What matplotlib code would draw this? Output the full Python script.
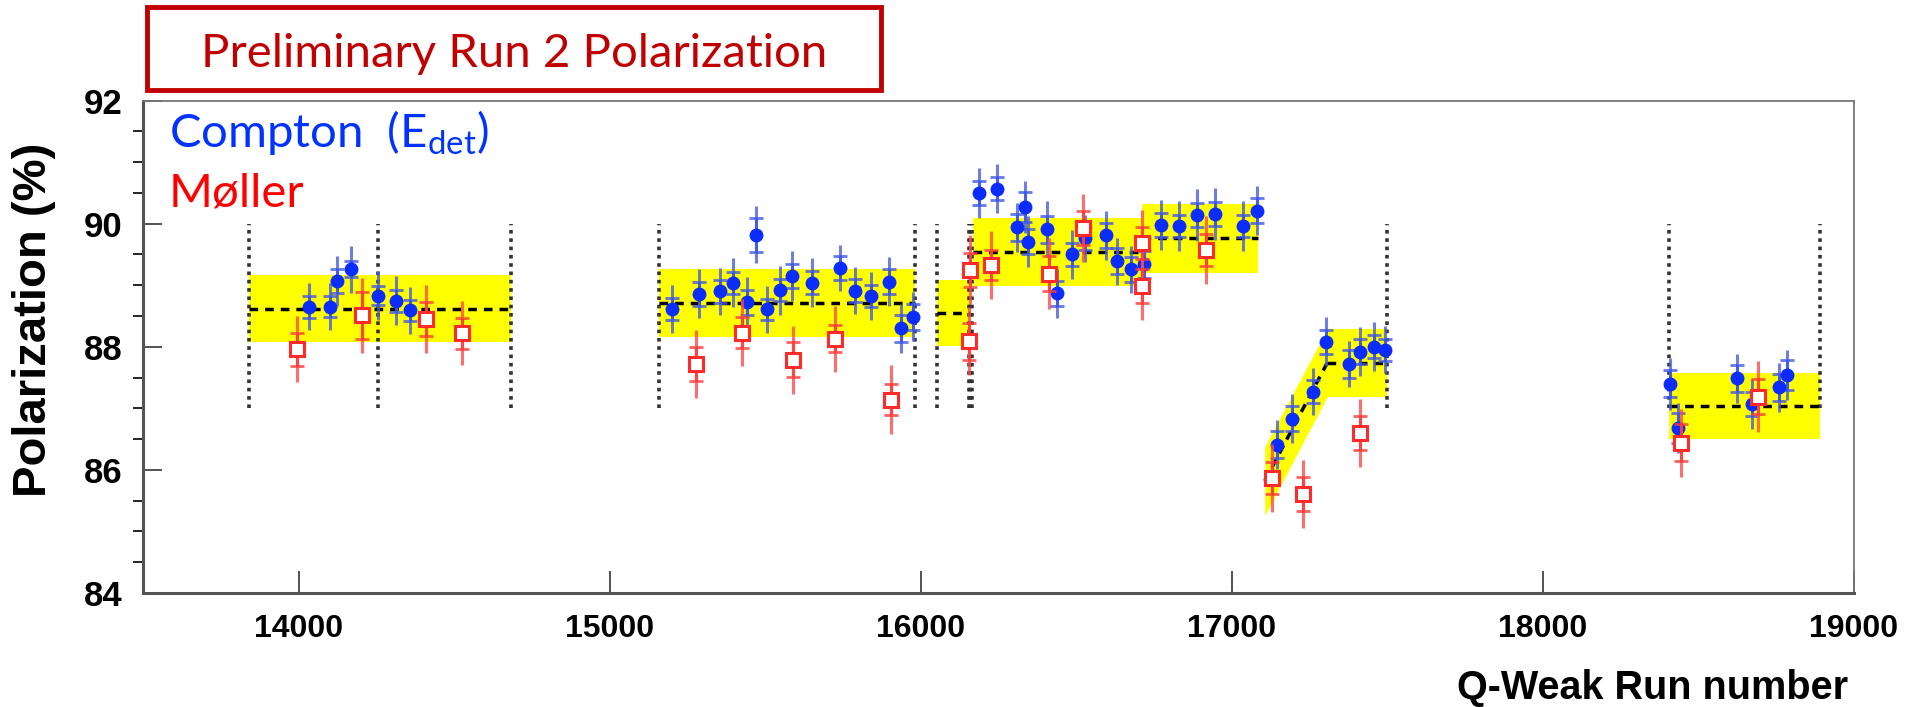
import matplotlib
matplotlib.use("Agg")
import matplotlib.pyplot as plt
from matplotlib.patches import Rectangle

# Compton (E_det) measurements
compton_run = [14034, 14101, 14125, 14169, 14254, 14312, 14358,
               15199, 15288, 15355, 15398, 15441, 15470, 15507, 15548, 15586,
               15651, 15741, 15790, 15840, 15899, 15937, 15974,
               16188, 16244, 16310, 16335, 16346, 16407, 16439, 16488, 16529,
               16595, 16630, 16675, 16719, 16771, 16831, 16887, 16946, 17037, 17080,
               17146, 17194, 17262, 17304, 17376, 17413, 17458, 17491,
               18408, 18435, 18625, 18673, 18759, 18786]
compton_pol = [88.65, 88.65, 89.07, 89.26, 88.83, 88.75, 88.59,
               88.61, 88.86, 88.90, 89.04, 88.72, 89.82, 88.61, 88.92, 89.15,
               89.04, 89.28, 88.91, 88.83, 89.06, 88.30, 88.49,
               90.50, 90.57, 89.94, 90.27, 89.71, 89.91, 88.87, 89.50, 89.76,
               89.81, 89.39, 89.26, 89.34, 89.98, 89.96, 90.14, 90.16, 89.96, 90.21,
               86.41, 86.83, 87.27, 88.08, 87.72, 87.92, 88.00, 87.95,
               87.40, 86.68, 87.49, 87.07, 87.34, 87.54]
compton_stat = [0.18, 0.17, 0.20, 0.13, 0.15, 0.18, 0.17,
                0.18, 0.20, 0.19, 0.18, 0.20, 0.28, 0.17, 0.18, 0.20,
                0.19, 0.20, 0.19, 0.18, 0.20, 0.22, 0.21,
                0.20, 0.19, 0.22, 0.25, 0.20, 0.22, 0.20, 0.18, 0.19,
                0.20, 0.21, 0.20, 0.22, 0.19, 0.18, 0.20, 0.19, 0.18, 0.20,
                0.22, 0.20, 0.19, 0.20, 0.22, 0.20, 0.19, 0.18,
                0.22, 0.25, 0.22, 0.20, 0.22, 0.25]
compton_err = [0.38, 0.38, 0.40, 0.38, 0.40, 0.40, 0.38,
               0.39, 0.40, 0.38, 0.40, 0.42, 0.46, 0.38, 0.40, 0.40,
               0.40, 0.38, 0.38, 0.39, 0.40, 0.40, 0.40,
               0.40, 0.40, 0.40, 0.42, 0.42, 0.45, 0.40, 0.40, 0.38,
               0.40, 0.38, 0.38, 0.40, 0.40, 0.40, 0.42, 0.42, 0.40, 0.40,
               0.40, 0.40, 0.38, 0.40, 0.38, 0.40, 0.40, 0.38,
               0.42, 0.40, 0.40, 0.40, 0.40, 0.40]

# Moller measurements
moller_run = [13994, 14203, 14410, 14527,
              15278, 15425, 15588, 15726, 15905,
              16155, 16160, 16225, 16414, 16521, 16712, 16712, 16918,
              17130, 17228, 17412, 18443, 18690]
moller_pol = [87.96, 88.51, 88.45, 88.22,
              87.72, 88.23, 87.79, 88.13, 87.14,
              88.09, 89.25, 89.33, 89.19, 89.93, 89.68, 88.99, 89.57,
              85.87, 85.61, 86.60, 86.44, 87.19]
moller_stat = [0.27, 0.38, 0.28, 0.25,
               0.27, 0.25, 0.28, 0.22, 0.25,
               0.30, 0.28, 0.25, 0.28, 0.28, 0.26, 0.28, 0.26,
               0.26, 0.28, 0.27, 0.30, 0.28]
moller_err = [0.54, 0.61, 0.55, 0.52,
              0.55, 0.55, 0.55, 0.54, 0.56,
              0.55, 0.56, 0.55, 0.58, 0.55, 0.55, 0.55, 0.55,
              0.55, 0.55, 0.55, 0.55, 0.58]

# flat averaging ranges (mean +- band)
band_lo = [13841, 15159, 16051, 16167, 16711, 17307, 18406]
band_hi = [14683, 15981, 16158, 16711, 17085, 17500, 18891]
band_mean = [88.62, 88.71, 88.55, 89.54, 89.76, 87.74, 87.04]
band_half = [0.55, 0.55, 0.54, 0.55, 0.56, 0.55, 0.54]

# sloped range
ramp_run = [17106, 17307]
ramp_mean = [85.82, 87.74]
ramp_half = [0.56, 0.55]

# run boundaries
boundary_runs = [13841, 14257, 14683, 15159, 15981, 16051, 16155, 16160,
                 16165, 17498, 18406, 18891]

plt.rcParams["mathtext.fontset"] = "custom"
plt.rcParams["mathtext.rm"] = "Lato"

fig = plt.figure(figsize=(19.19, 7.07), dpi=100)
ax = fig.add_axes([0.0745, 0.1612, 0.8916, 0.6966])

for lo, hi, m, h in zip(band_lo, band_hi, band_mean, band_half):
    ax.fill_between([lo, hi], [m - h] * 2, [m + h] * 2, color="#ffff00", lw=0, zorder=1)
    ax.plot([lo, hi], [m, m], ls=(0, (2.5, 2)), color="black", lw=2.5, zorder=3)

ax.fill_between(ramp_run, [m - h for m, h in zip(ramp_mean, ramp_half)],
                [m + h for m, h in zip(ramp_mean, ramp_half)],
                color="#ffff00", lw=0, zorder=1)
ax.plot(ramp_run, ramp_mean, ls=(0, (2.5, 2)), color="black", lw=2.5, zorder=3)

for r in boundary_runs:
    ax.plot([r, r], [87.0, 90.0], ls=(0, (1, 1.3)), color="#333333", lw=2.6, zorder=2)

# Compton
ax.errorbar(compton_run, compton_pol, yerr=compton_err, fmt="none",
            ecolor="#4a5fd8", elinewidth=2.2, alpha=0.8, zorder=4)
ax.errorbar(compton_run, compton_pol, yerr=compton_stat, fmt="none",
            ecolor="#3d55e6", elinewidth=2.2, capsize=5, capthick=2, alpha=0.8, zorder=4)
ax.plot(compton_run, compton_pol, "o", color="#0a2cff", ms=9, mec="#0a2cff", zorder=5)

# Moller
ax.errorbar(moller_run, moller_pol, yerr=moller_err, fmt="none",
            ecolor="#ff4a4a", elinewidth=2.2, alpha=0.8, zorder=6)
ax.errorbar(moller_run, moller_pol, yerr=moller_stat, fmt="none",
            ecolor="#ff3a3a", elinewidth=2.2, capsize=5, capthick=2, alpha=0.8, zorder=6)
ax.plot(moller_run, moller_pol, "s", mfc="white", mec="#ff2a2a", mew=2.2, ms=10, zorder=7)

ax.set_xlim(13500, 19000)
ax.set_ylim(84, 92)
ax.set_xticks([14000, 15000, 16000, 17000, 18000, 19000])
ax.set_yticks([84, 86, 88, 90, 92])
ax.set_yticks([84.5, 85, 85.5, 86.5, 87, 87.5, 88.5, 89, 89.5, 90.5, 91, 91.5], minor=True)
ax.tick_params(axis="both", direction="in", color="#444444", width=1.3)
ax.tick_params(axis="x", which="major", length=16, pad=15)
ax.tick_params(axis="y", which="major", length=14, pad=15)
ax.tick_params(axis="y", which="minor", length=7, width=1.2)
for lab in ax.get_xticklabels():
    lab.set_fontfamily("Liberation Sans")
    lab.set_fontsize(23)
    lab.set_fontweight("bold")
for lab in ax.get_yticklabels():
    lab.set_fontfamily("Liberation Sans")
    lab.set_fontsize(25)
    lab.set_fontweight("bold")
for s in ["left", "bottom"]:
    ax.spines[s].set_color("#555555")
    ax.spines[s].set_linewidth(2.2)
for s in ["top", "right"]:
    ax.spines[s].set_color("#777777")
    ax.spines[s].set_linewidth(1.3)

fig.text(0.0177, 0.548, "Polarization (%)", rotation=90, ha="center", va="center",
         fontsize=34, fontweight="bold", family="Liberation Sans")
fig.text(0.963, 0.012, "Q-Weak Run number", ha="right", va="baseline",
         fontsize=28.5, fontweight="bold", family="Liberation Sans")

ax.text(0.0152, 0.906, r"Compton  (E$_{\mathrm{det}}$)", transform=ax.transAxes,
        color="#0033ff", fontsize=34, family="Lato", va="baseline")
ax.text(0.0152, 0.784, "Møller", transform=ax.transAxes,
        color="#ff0000", fontsize=34, family="Lato", va="baseline")

fig.add_artist(Rectangle((0.0766, 0.8727), 0.3825, 0.1174, transform=fig.transFigure,
                         fill=False, edgecolor="#c00000", lw=3.5))
fig.text(0.2678, 0.905, "Preliminary Run 2 Polarization", ha="center", va="baseline",
         color="#c00000", fontsize=34, family="Lato")

fig.savefig("out.png", dpi=100)
